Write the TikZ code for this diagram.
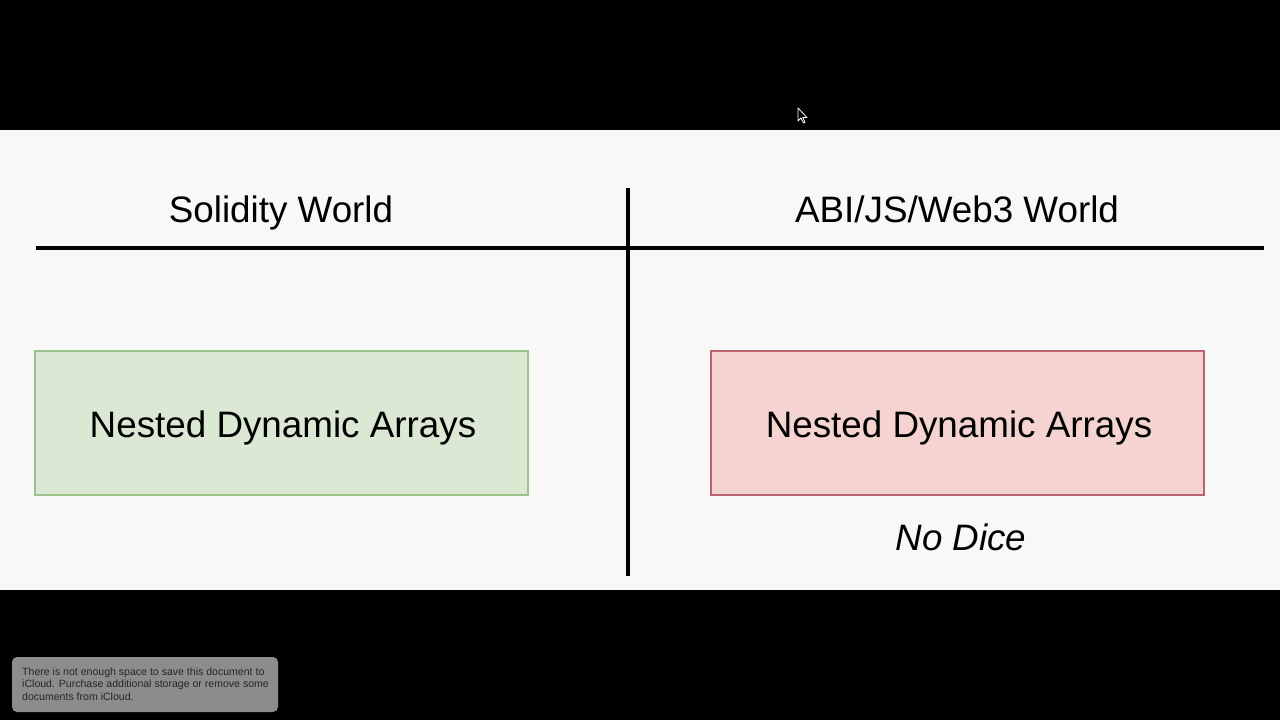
\documentclass[tikz,border=0pt]{standalone}
\usepackage{fontspec}
\setmainfont{Liberation Sans}
\definecolor{screen}{HTML}{F8F8F8}
\definecolor{greenfill}{HTML}{DAE8D4}
\definecolor{greenline}{HTML}{9DC38D}
\definecolor{redfill}{HTML}{F4D3D1}
\definecolor{redline}{HTML}{B8646A}
\definecolor{notegray}{HTML}{8C8C8C}
\tikzset{
  title/.style={font=\fontsize{36.8}{40}\selectfont, text=black, inner sep=0pt, anchor=base},
  boxlabel/.style={font=\fontsize{36.8}{40}\selectfont, text=black, inner sep=0pt, anchor=base},
  world/.style={line width=4.5pt, black},
  greenbox/.style={draw=greenline, fill=greenfill, line width=2.5pt},
  redbox/.style={draw=redline, fill=redfill, line width=2.5pt},
}
\begin{document}
\begin{tikzpicture}[x=1pt,y=-1pt]
\useasboundingbox (0,0) rectangle (1280,720);
\fill[black] (0,0) rectangle (1280,720);
\fill[screen] (0,130) rectangle (1280,590);
% divider lines
\coordinate (hl) at (36,248);
\coordinate (hr) at (1264,248);
\coordinate (vt) at (628,188);
\coordinate (vb) at (628,576);
\draw[world] (hl) -- (hr);
\draw[world] (vt) -- (vb);
% titles
\node[title] (t1) at (281,222) {Solidity World};
\node[title] (t2) at (957,222) {ABI/JS/Web3 World};
% boxes
\draw[greenbox] (35,351) rectangle (528,495);
\node[boxlabel] (b1) at (283,437) {Nested Dynamic Arrays};
\draw[redbox] (711,351) rectangle (1204,495);
\node[boxlabel] (b2) at (959,437) {Nested Dynamic Arrays};
\node[boxlabel, font=\fontsize{36.8}{40}\selectfont\itshape] (nd) at (961,550) {No Dice};
% cursor
\filldraw[fill=black, draw=white, line width=0.8pt, line join=round]
  (798,108) -- (798,121) -- (801,118) -- (803.5,123) -- (805,122.3) -- (802.8,117.5) -- (807,117.5) -- cycle;
% notification
\fill[notegray, rounded corners=5pt] (12,657) rectangle (278,712);
\node[font=\fontsize{10.55}{12.6}\selectfont, text=black!85, anchor=north west, align=left, inner sep=0pt] (note) at (22,667.5)
  {There is not enough space to save this document to\\iCloud. Purchase additional storage or remove some\\documents from iCloud.};
\end{tikzpicture}
\end{document}
